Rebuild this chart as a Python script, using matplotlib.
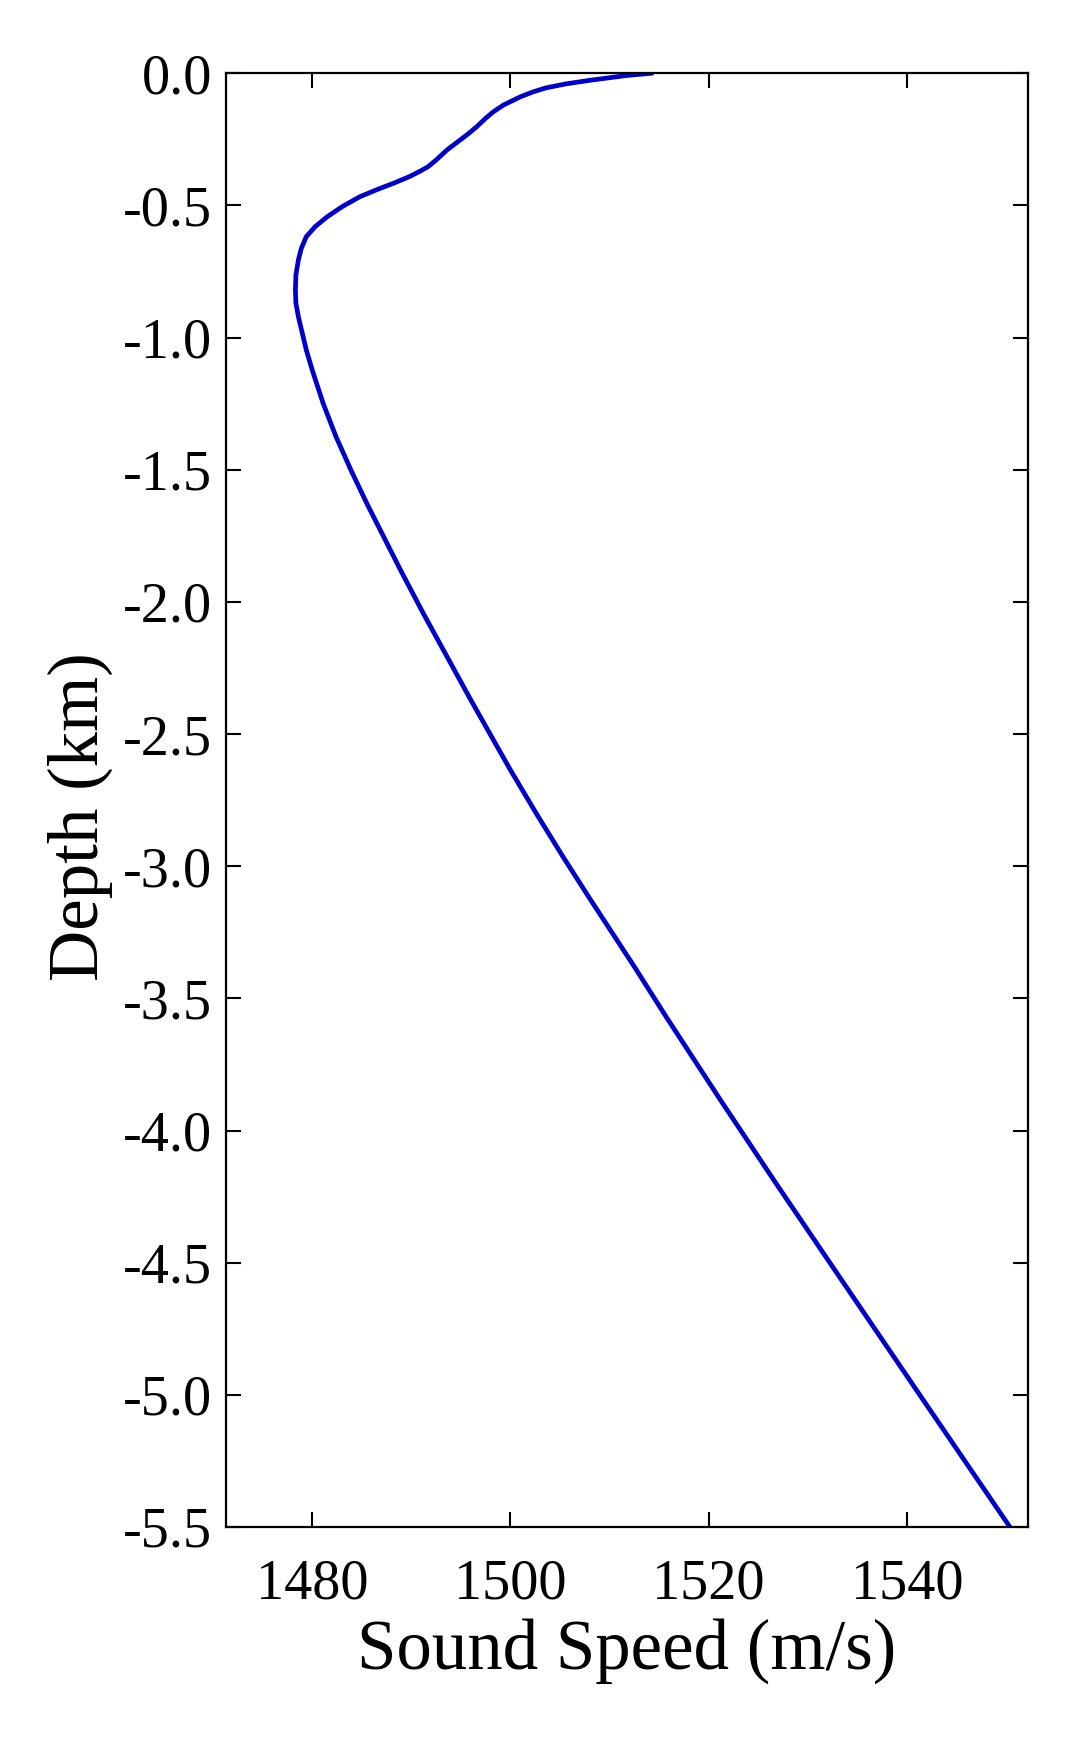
import matplotlib
matplotlib.use('Agg')
import matplotlib.pyplot as plt

# sound speed profile
depth_km = [0.0, -0.008, -0.025, -0.04, -0.055, -0.07, -0.089, -0.12, -0.145, -0.17,
            -0.202, -0.233, -0.29, -0.328, -0.353, -0.37, -0.391, -0.416, -0.439,
            -0.467, -0.505, -0.543, -0.58, -0.618, -0.662, -0.706, -0.763, -0.82,
            -0.87, -0.921, -1.047, -1.123, -1.249, -1.375, -1.501, -1.627, -1.753,
            -1.879, -2.043, -2.207, -2.371, -2.497, -2.636, -2.8, -2.964, -3.128,
            -3.254, -3.38, -3.569, -3.885, -4.2, -4.515, -5.011, -5.5]
speed_ms = [1514.2, 1511.8, 1508.3, 1505.6, 1503.6, 1502.3, 1501.0, 1499.3, 1498.3, 1497.5,
            1496.6, 1495.6, 1493.6, 1492.5, 1491.7, 1490.9, 1489.8, 1488.2, 1486.6,
            1484.8, 1483.0, 1481.5, 1480.3, 1479.4, 1478.9, 1478.6, 1478.35, 1478.3,
            1478.35, 1478.6, 1479.4, 1480.0, 1481.1, 1482.4, 1483.9, 1485.5, 1487.2,
            1488.9, 1491.2, 1493.6, 1496.0, 1497.9, 1500.0, 1502.6, 1505.3, 1508.1,
            1510.3, 1512.5, 1515.7, 1521.2, 1526.8, 1532.5, 1541.5, 1550.4]

xticks = [1480, 1500, 1520, 1540]
yticks = [0.0, -0.5, -1.0, -1.5, -2.0, -2.5, -3.0, -3.5, -4.0, -4.5, -5.0, -5.5]

plt.rcParams['font.family'] = ['Liberation Serif', 'DejaVu Serif']
plt.rcParams['axes.unicode_minus'] = False

fig = plt.figure(figsize=(10.8, 17.37), dpi=100)
ax = fig.add_axes([0.2093, 0.1209, 0.7423, 0.8369])

ax.plot(speed_ms, depth_km, color='#0000c8', lw=3.4, solid_joinstyle='round')

ax.set_xlim(1471.3, 1552.2)
ax.set_ylim(-5.5, 0.0)
ax.set_xticks(xticks)
ax.set_yticks(yticks)
ax.set_yticklabels(['%.1f' % v for v in yticks])

ax.tick_params(direction='in', length=11, width=1.5, labelsize=40.5,
               top=True, right=True)
ax.tick_params(axis='x', pad=23)
ax.tick_params(axis='y', pad=10)
for s in ax.spines.values():
    s.set_linewidth(1.6)

ax.set_xlabel('Sound Speed (m/s)', fontsize=51, labelpad=5)
ax.set_ylabel('Depth (km)', fontsize=51)
ax.yaxis.set_label_coords(-0.141, 0.489)

fig.savefig('out.png', dpi=100, facecolor='white')
